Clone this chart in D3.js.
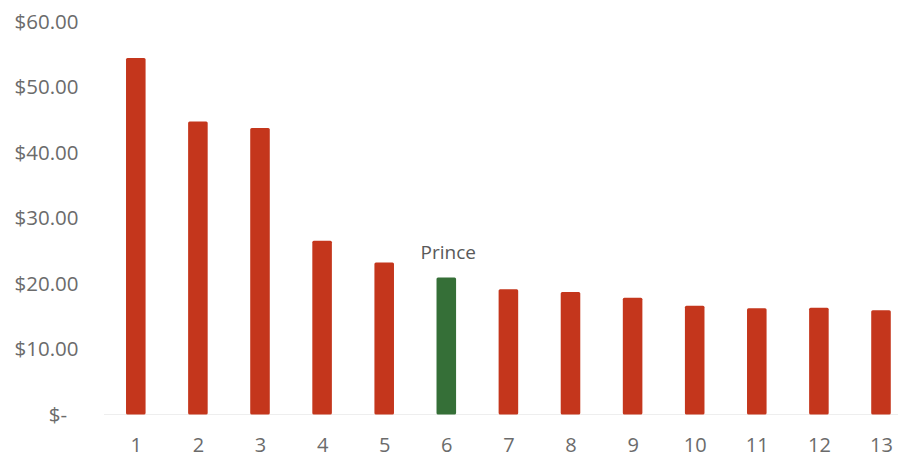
<!DOCTYPE html>
<html>
<head>
<meta charset="utf-8">
<script src="https://cdn.jsdelivr.net/npm/d3@7/dist/d3.min.js"></script>
<style>
  html, body { margin: 0; padding: 0; background: #fff; }
  svg { display: block; }
</style>
</head>
<body>
<svg id="chart" width="898" height="457"></svg>
<script>
const categories = ["1","2","3","4","5","6","7","8","9","10","11","12","13"];
const values = [54.4, 44.7, 43.7, 26.5, 23.2, 20.9, 19.1, 18.7, 17.8, 16.6, 16.2, 16.3, 15.9];
const highlight = ["6"];
const annotations = [{ category: "6", label: "Prince" }];
const yTicks = [0, 10, 20, 30, 40, 50, 60];

const svg = d3.select("#chart");
const red = "#C4361C", green = "#356F37";
const textColor = "#6b6b6b";
const font = "'Open Sans', sans-serif";

const x = d3.scalePoint().domain(categories).range([135.8, 881]);
const barW = x.step() * 0.315;
const y = d3.scaleLinear().domain([0, 60]).range([414.5, 21.2]);

// baseline
svg.append("line")
  .attr("x1", 104).attr("x2", 898)
  .attr("y1", y(0)).attr("y2", y(0))
  .attr("stroke", "#eeeeee").attr("stroke-width", 1);

// y axis
const yAxis = d3.axisLeft(y).tickValues(yTicks).tickSize(0).tickPadding(0)
  .tickFormat(d => d === 0 ? "$-" : "$" + d3.format(".2f")(d));
const gy = svg.append("g").attr("transform", "translate(78.5,0)").call(yAxis);
gy.select(".domain").remove();
gy.selectAll("text")
  .attr("font-family", font).attr("font-size", 20.5)
  .attr("fill", textColor).attr("dy", "0.34em")
  .attr("x", d => d === 0 ? -11.5 : 0);

// bars
svg.append("g").selectAll("rect").data(values).join("rect")
  .attr("x", (d, i) => x(categories[i]) - barW / 2)
  .attr("width", barW)
  .attr("y", d => y(d))
  .attr("height", d => y(0) - y(d))
  .attr("rx", 1.5)
  .attr("fill", (d, i) => highlight.includes(categories[i]) ? green : red);

// x axis
const xAxis = d3.axisBottom(x).tickSize(0).tickPadding(0);
const gx = svg.append("g").attr("transform", "translate(0,452)").call(xAxis);
gx.select(".domain").remove();
gx.selectAll("text")
  .attr("font-family", font).attr("font-size", 20)
  .attr("fill", textColor).attr("dy", 0).attr("y", 0);

// annotation
svg.append("g").selectAll("text").data(annotations).join("text")
  .attr("x", d => x(d.category) + 2)
  .attr("y", 258.5)
  .attr("text-anchor", "middle")
  .attr("font-family", font).attr("font-size", 19)
  .attr("fill", "#595959")
  .text(d => d.label);
</script>
</body>
</html>
